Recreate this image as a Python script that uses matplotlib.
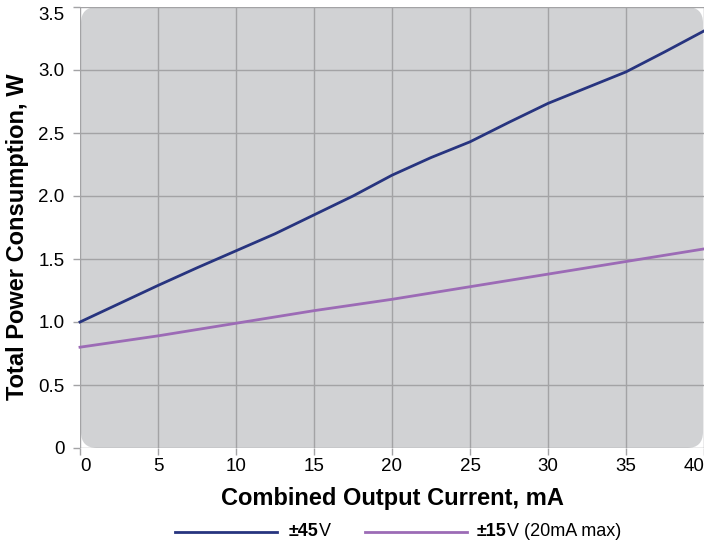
import matplotlib
matplotlib.use("Agg")
import matplotlib.pyplot as plt
from matplotlib.patches import FancyBboxPatch
from matplotlib.lines import Line2D
from matplotlib.transforms import IdentityTransform

plt.rcParams['font.family'] = ['Liberation Sans', 'DejaVu Sans']

current = [0, 2.5, 5, 7.5, 10, 12.5, 15, 17.5, 20, 22.5, 25, 27.5, 30, 32.5, 35, 37.5, 40]
power_45 = [1.0, 1.145, 1.29, 1.43, 1.565, 1.70, 1.85, 2.00, 2.165, 2.305, 2.43, 2.585,
            2.735, 2.86, 2.985, 3.145, 3.31]
current_15 = [0, 5, 10, 15, 20, 25, 30, 35, 40]
power_15 = [0.80, 0.89, 0.99, 1.09, 1.18, 1.28, 1.38, 1.48, 1.58]
xticks = [0, 5, 10, 15, 20, 25, 30, 35, 40]
yticks = [0, 0.5, 1.0, 1.5, 2.0, 2.5, 3.0, 3.5]
ytick_labels = ['0', '0.5', '1.0', '1.5', '2.0', '2.5', '3.0', '3.5']

W, H = 704, 548
fig = plt.figure(figsize=(W/100, H/100), dpi=100)
L, R, T, B = 80, 704, 7, 448
ax = fig.add_axes([L/W, (H-B)/H, (R-L)/W, (B-T)/H])
ax.set_facecolor('none')
for s in ax.spines.values():
    s.set_visible(False)

bg = FancyBboxPatch((L+1, H-B), R-L-2, B-T, boxstyle="round,pad=0,rounding_size=16",
                    transform=IdentityTransform(), facecolor='#d1d2d4', edgecolor='none',
                    zorder=-5, clip_on=False)
ax.add_artist(bg)

ax.set_xlim(0, 40)
ax.set_ylim(0, 3.5)
ax.set_xticks(xticks)
ax.set_yticks(yticks)
ax.set_yticklabels(ytick_labels)
ax.grid(True, color='#a3a3a5', linewidth=1.0, zorder=0)
ax.set_axisbelow(True)
ax.tick_params(axis='both', length=5, color='#a3a3a5', labelsize=13.5, width=1.0)
ax.tick_params(axis='y', pad=6)
ax.tick_params(axis='x', pad=2)
xl = ax.get_xticklabels()
xl[0].set_horizontalalignment('left')
xl[-1].set_horizontalalignment('right')
yl = ax.get_yticklabels()
yl[-1].set_verticalalignment('top')

ax.plot(current, power_45, color='#27347f', linewidth=2.0, clip_on=False, zorder=3,
        solid_joinstyle='round')
ax.plot(current_15, power_15, color='#9c6bb6', linewidth=2.0, clip_on=False, zorder=3)

ax.set_xlabel('Combined Output Current, mA', fontsize=17, fontweight='bold', labelpad=9)
ax.set_ylabel('Total Power Consumption, W', fontsize=17, fontweight='bold',
              va='center')
ax.yaxis.set_label_coords((18 - L) / (R - L), 0.478)

# Legend
ly = 1 - 532/H
fig.add_artist(Line2D([175/W, 277/W], [ly, ly], color='#27347f', linewidth=2.0))
fig.add_artist(Line2D([365/W, 467/W], [ly, ly], color='#9c6bb6', linewidth=2.0))
t1 = fig.text(289/W, ly, '±45', fontsize=13, fontweight='bold', va='center')
fig.canvas.draw()
ax.annotate('V', xy=(1, 0.5), xycoords=t1, va='center', fontsize=13)
t2 = fig.text(477/W, ly, '±15', fontsize=13, fontweight='bold', va='center')
ax.annotate('V (20mA max)', xy=(1, 0.5), xycoords=t2, va='center', fontsize=13)

fig.savefig('out.png', dpi=100)
